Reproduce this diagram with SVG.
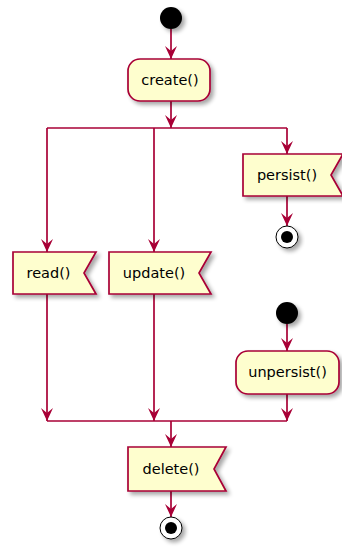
<svg xmlns="http://www.w3.org/2000/svg" width="342" height="552" viewBox="0 0 342 552">
<defs>
<filter id="sh" x="-20%" y="-20%" width="150%" height="160%">
<feGaussianBlur in="SourceAlpha" stdDeviation="2"/>
<feOffset dx="3" dy="3" result="b"/>
<feComponentTransfer><feFuncA type="linear" slope="0.35"/></feComponentTransfer>
<feMerge><feMergeNode/><feMergeNode in="SourceGraphic"/></feMerge>
</filter>
<marker id="ah" viewBox="0 0 13 12" refX="13" refY="6" markerWidth="13" markerHeight="12" markerUnits="userSpaceOnUse" orient="auto">
<path d="M13,6 L0,0 L5,6 L0,12 Z" fill="#A80036"/>
</marker>
</defs>
<style>
.box{fill:#FEFECE;stroke:#A80036;stroke-width:1.7;filter:url(#sh)}
.ln{fill:none;stroke:#A80036;stroke-width:1.7}
.t{font-family:"DejaVu Sans",Verdana,sans-serif;font-size:14.5px;fill:#000;text-anchor:middle}
.st{fill:#000;filter:url(#sh)}
.eo{fill:#fff;stroke:#000;stroke-width:1;filter:url(#sh)}
</style>
<g id="connectors">
<line class="ln" x1="171" y1="29" x2="171" y2="59" marker-end="url(#ah)"/>
<line class="ln" x1="171" y1="101" x2="171" y2="128" marker-end="url(#ah)"/>
<line class="ln" x1="47" y1="128" x2="287" y2="128"/>
<line class="ln" x1="47" y1="128" x2="47" y2="252" marker-end="url(#ah)"/>
<line class="ln" x1="154" y1="128" x2="154" y2="252" marker-end="url(#ah)"/>
<line class="ln" x1="287" y1="128" x2="287" y2="154" marker-end="url(#ah)"/>
<line class="ln" x1="287" y1="196" x2="287" y2="226" marker-end="url(#ah)"/>
<line class="ln" x1="287" y1="324" x2="287" y2="351" marker-end="url(#ah)"/>
<line class="ln" x1="287" y1="394" x2="287" y2="421" marker-end="url(#ah)"/>
<line class="ln" x1="47" y1="294" x2="47" y2="421" marker-end="url(#ah)"/>
<line class="ln" x1="154" y1="294" x2="154" y2="421" marker-end="url(#ah)"/>
<line class="ln" x1="47" y1="421" x2="287" y2="421"/>
<line class="ln" x1="171" y1="421" x2="171" y2="447" marker-end="url(#ah)"/>
<line class="ln" x1="171" y1="491" x2="171" y2="517" marker-end="url(#ah)"/>
</g>
<g id="start1"><circle class="st" cx="171" cy="18" r="11"/></g>
<g id="create"><rect class="box" x="128" y="59" width="82" height="42" rx="12"/><text class="t" x="170" y="85">create()</text></g>
<g id="read"><polygon class="box" points="13,252 96,252 84,273 96,294 13,294"/><text class="t" x="48.5" y="278">read()</text></g>
<g id="update"><polygon class="box" points="109,252 211,252 199,273 211,294 109,294"/><text class="t" x="154" y="278">update()</text></g>
<g id="persist"><polygon class="box" points="243,154 343,154 331,175 343,196 243,196"/><text class="t" x="287" y="180">persist()</text></g>
<g id="end1"><circle class="eo" cx="287" cy="237" r="11"/><circle cx="287" cy="237" r="6" fill="#000"/></g>
<g id="start2"><circle class="st" cx="287" cy="313" r="11"/></g>
<g id="unpersist"><rect class="box" x="236" y="351" width="103" height="43" rx="12"/><text class="t" x="287.5" y="377">unpersist()</text></g>
<g id="delete"><polygon class="box" points="128,447 226,447 214,469 226,491 128,491"/><text class="t" x="171" y="474">delete()</text></g>
<g id="end2"><circle class="eo" cx="171" cy="528" r="11"/><circle cx="171" cy="528" r="6" fill="#000"/></g>
</svg>
